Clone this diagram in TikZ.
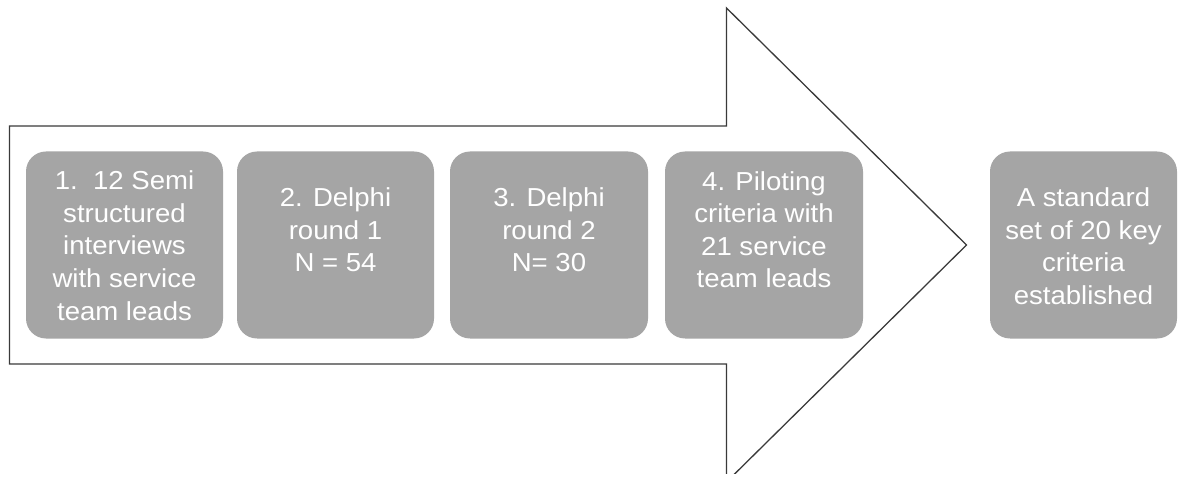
\documentclass[tikz,border=0pt]{standalone}
\usepackage{fontspec}
\setmainfont[FakeStretch=1.06]{Liberation Sans}
\definecolor{boxgray}{HTML}{A5A5A5}
\definecolor{outline}{HTML}{3A3A3A}
\begin{document}
\begin{tikzpicture}[x=1pt,y=-1pt,
  stepbox/.style={draw=none, fill=boxgray, rounded corners=20pt, inner sep=0pt,
    minimum height=187pt},
  steptext/.style={anchor=north, inner sep=0pt, align=center, text=white,
    font=\fontsize{26}{32.6}\selectfont}]
\useasboundingbox (0,0) rectangle (1178,478);
\begin{scope}
\clip (0,0) rectangle (1178,473.5);
% big outline arrow
\draw[outline, line width=1.3pt, fill=white, line join=miter]
  (9.5,126) -- (726.5,126) -- (726.5,8) -- (966.5,245) -- (726.5,482)
  -- (726.5,364) -- (9.5,364) -- cycle;
\end{scope}
% step boxes
\node[stepbox, minimum width=197pt] (b1) at (124.5,245) {};
\node[stepbox, minimum width=197pt] (b2) at (335.5,245) {};
\node[stepbox, minimum width=198pt] (b3) at (549,245) {};
\node[stepbox, minimum width=198pt] (b4) at (764,245) {};
\node[stepbox, minimum width=187pt] (b5) at (1083.5,245) {};
% texts
\node[steptext] (t1) at (b1.center |- 0,170.7) {1.\ \ 12 Semi\\structured\\interviews\\with service\\team leads};
\node[steptext] (t2) at (b2.center |- 0,187.5) {2. Delphi\\round 1\\N = 54};
\node[steptext] (t3) at (b3.center |- 0,187.5) {3. Delphi\\round 2\\N= 30};
\node[steptext] (t4) at (b4.center |- 0,171) {4. Piloting\\criteria with\\21 service\\team leads};
\node[steptext] (t5) at (b5.center |- 0,187.5) {A standard\\set of 20 key\\criteria\\established};
\end{tikzpicture}
\end{document}
